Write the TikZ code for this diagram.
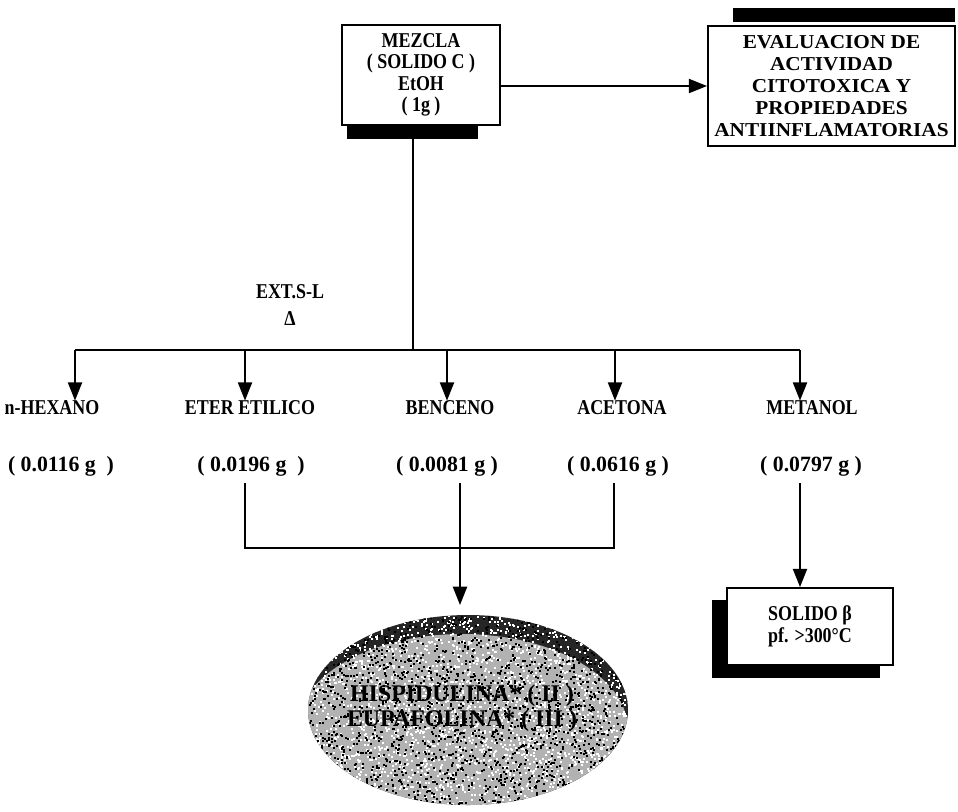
\documentclass[tikz,border=0pt]{standalone}
\usepackage{fontspec}
\setmainfont{Liberation Serif}[FakeStretch=0.85]
\newfontfamily\evalfont{Liberation Serif}[FakeStretch=1.08]
\newfontfamily\valfont{Liberation Serif}
\usetikzlibrary{arrows.meta,shapes.geometric,calc}
\begin{document}
\begin{tikzpicture}[x=0.025cm,y=-0.025cm,
  lbl/.style={font=\bfseries\fontsize{15}{15.6}\selectfont, inner sep=0pt, align=center},
  val/.style={font=\valfont\bfseries\fontsize{15.5}{16}\selectfont, inner sep=0pt},
  boxnode/.style={draw, line width=1.3pt, fill=white, align=center, inner sep=0pt,
    font=\bfseries\fontsize{15}{15.3}\selectfont},
  link/.style={line width=1.4pt},
  arr/.style={link, -{Triangle[width=10pt,length=13pt]}},
  shadowbar/.style={fill=black}]
\useasboundingbox (0,0) rectangle (958,811);

% starting mixture
\node[boxnode, minimum width=3.95cm, minimum height=2.5cm] (mez) at (421,75)
  {MEZCLA\\( SOLIDO C )\\EtOH\\( 1g )};
\fill[shadowbar] (347,125) rectangle (478,139);

% biological evaluation
\node[boxnode, minimum width=6.175cm, minimum height=3cm,
  font=\evalfont\bfseries\fontsize{14}{15.6}\selectfont] (eval) at (831.5,86)
  {EVALUACION DE\\ACTIVIDAD\\CITOTOXICA Y\\PROPIEDADES\\ANTIINFLAMATORIAS};
\fill[shadowbar] (733,8) rectangle (955,22);
\draw[arr] (mez.east |- eval.west) -- (eval.west);

% solid-liquid extraction
\node[lbl] (ext) at (290,305) {EXT.S-L\\[3pt]Δ};
\coordinate (split) at (413,350);
\coordinate (b1) at (75,350);
\coordinate (b2) at (245,350);
\coordinate (b3) at (447,350);
\coordinate (b4) at (615,350);
\coordinate (b5) at (800,350);
\draw[link] (split |- mez.south) -- (split);
\draw[link] (b1) -- (b5);

% solvents
\node[lbl] (s1) at (52,408) {n-HEXANO};
\node[lbl] (s2) at (250,408) {ETER ETILICO};
\node[lbl] (s3) at (450,408) {BENCENO};
\node[lbl] (s4) at (622,408) {ACETONA};
\node[lbl] (s5) at (812,408) {METANOL};
\foreach \i in {1,...,5} \draw[arr] (b\i) -- (b\i |- s\i.north);

% extract masses
\node[val] (g1) at (61,466) {( 0.0116 g\ \ )};
\node[val] (g2) at (251,466) {( 0.0196 g\ \ )};
\node[val] (g3) at (447,466) {( 0.0081 g )};
\node[val] (g4) at (618,466) {( 0.0616 g )};
\node[val] (g5) at (811,466) {( 0.0797 g )};

% combined fractions: grainy ellipse with a dark upper rim
\begin{scope}
  \clip (468,710) ellipse [x radius=160, y radius=95];
  \fill[black!85] (300,610) rectangle (640,810);
  \fill[gray!60] (462,730) ellipse [x radius=166, y radius=96];
  \pgfmathsetseed{7}
  \foreach \k in {1,...,2600} {
    \pgfmathsetmacro{\rx}{468+rand*160}
    \pgfmathsetmacro{\ry}{710+rand*95}
    \fill[white] (\rx,\ry) rectangle ++(2,2);
  }
  \foreach \k in {1,...,2000} {
    \pgfmathsetmacro{\rx}{468+rand*160}
    \pgfmathsetmacro{\ry}{710+rand*95}
    \fill[black] (\rx,\ry) rectangle ++(2,2);
  }
\end{scope}
\node[ellipse, minimum width=8cm, minimum height=4.75cm, inner sep=0pt,
  font=\valfont\bfseries\fontsize{17}{18}\selectfont, align=center] (prod) at (462,708)
  {HISPIDULINA* ( II )\\EUPAFOLINA* ( III )};

\coordinate (m2) at (245,548);
\coordinate (m4) at (614,548);
\coordinate (c2) at (245,483);
\coordinate (c4) at (614,483);
\coordinate (c3) at (460,483);
\coordinate (tip3) at (460,605);
\draw[link] (c2) -- (m2) -- (m4) -- (c4);
\draw[arr] (c3) -- (tip3);

% methanol solid
\node[boxnode, minimum width=4.15cm, minimum height=1.925cm] (sol) at (810,626.5)
  {SOLIDO β\\pf. >300°C};
\fill[shadowbar] (712,600) rectangle (727,678);
\fill[shadowbar] (712,665) rectangle (880,678);
\coordinate (c5) at (800,483);
\draw[arr] (c5) -- (c5 |- sol.north);
\end{tikzpicture}
\end{document}
